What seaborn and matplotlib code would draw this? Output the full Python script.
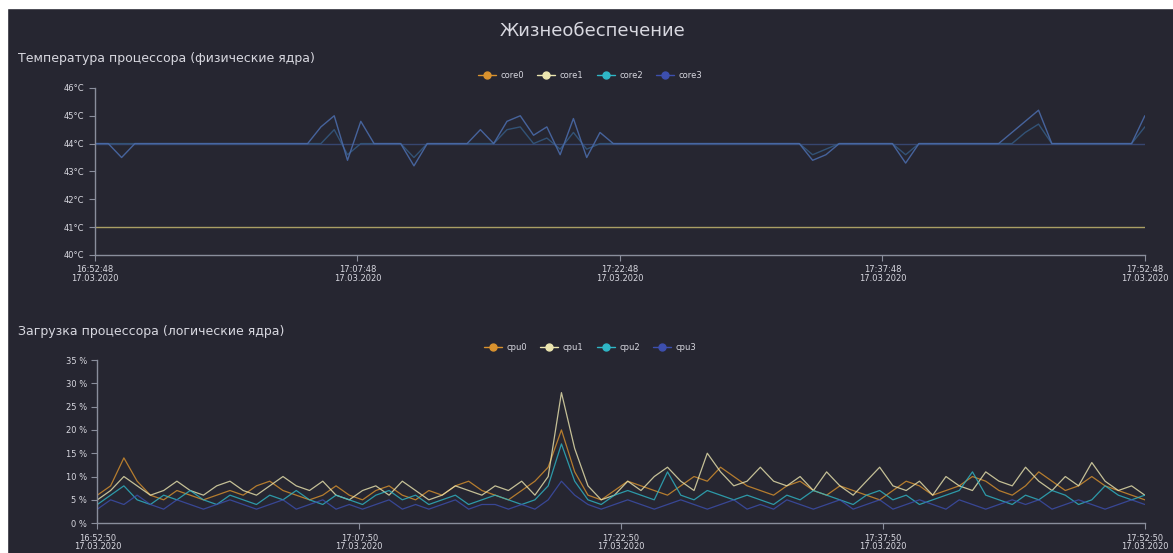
import numpy as np
import pandas as pd
import matplotlib
matplotlib.use("Agg")
import matplotlib.pyplot as plt
import seaborn as sns
from matplotlib.lines import Line2D
from matplotlib.patches import Rectangle

# --- данные ---
TITLE = "Жизнеобеспечение"
TEMP_TITLE = "Температура процессора (физические ядра)"
LOAD_TITLE = "Загрузка процессора (логические ядра)"

temp_names = ["core0", "core1", "core2", "core3"]
load_names = ["cpu0", "cpu1", "cpu2", "cpu3"]

core0 = [44] * 80
core1 = [41] * 80
core2 = [44, 44, 44, 44, 44, 44, 44, 44, 44, 44,
         44, 44, 44, 44, 44, 44, 44, 44, 44.5, 43.6,
         44, 44, 44, 44, 43.5, 44, 44, 44, 44, 44,
         44, 44.5, 44.6, 44, 44.2, 43.8, 44.4, 43.8, 44, 44,
         44, 44, 44, 44, 44, 44, 44, 44, 44, 44,
         44, 44, 44, 44, 43.6, 43.8, 44, 44, 44, 44,
         44, 43.6, 44, 44, 44, 44, 44, 44, 44, 44,
         44.4, 44.7, 44, 44, 44, 44, 44, 44, 44, 44.6]
core3 = [44, 44, 43.5, 44, 44, 44, 44, 44, 44, 44,
         44, 44, 44, 44, 44, 44, 44, 44.6, 45, 43.4,
         44.8, 44, 44, 44, 43.2, 44, 44, 44, 44, 44.5,
         44, 44.8, 45, 44.3, 44.6, 43.6, 44.9, 43.5, 44.4, 44,
         44, 44, 44, 44, 44, 44, 44, 44, 44, 44,
         44, 44, 44, 44, 43.4, 43.6, 44, 44, 44, 44,
         44, 43.3, 44, 44, 44, 44, 44, 44, 44, 44.4,
         44.8, 45.2, 44, 44, 44, 44, 44, 44, 44, 45]

cpu0 = [6, 8, 14, 9, 6, 5, 7, 6, 5, 6,
        7, 6, 8, 9, 7, 6, 5, 6, 8, 6,
        5, 7, 8, 6, 5, 7, 6, 8, 9, 7,
        6, 5, 7, 9, 12, 20, 11, 6, 5, 7,
        9, 8, 7, 6, 8, 10, 9, 12, 10, 8,
        7, 6, 8, 9, 7, 6, 8, 7, 6, 5,
        7, 9, 8, 6, 7, 8, 10, 9, 7, 6,
        8, 11, 9, 7, 8, 10, 8, 7, 6, 5]
cpu1 = [5, 7, 10, 8, 6, 7, 9, 7, 6, 8,
        9, 7, 6, 8, 10, 8, 7, 9, 6, 5,
        7, 8, 6, 9, 7, 5, 6, 8, 7, 6,
        8, 7, 9, 6, 10, 28, 16, 8, 5, 6,
        9, 7, 10, 12, 9, 7, 15, 11, 8, 9,
        12, 9, 8, 10, 7, 11, 8, 6, 9, 12,
        8, 7, 9, 6, 10, 8, 7, 11, 9, 8,
        12, 9, 7, 10, 8, 13, 9, 7, 8, 6]
cpu2 = [4, 6, 8, 5, 4, 6, 5, 7, 5, 4,
        6, 5, 4, 6, 5, 7, 5, 4, 6, 5,
        4, 6, 7, 5, 6, 4, 5, 6, 4, 5,
        6, 5, 4, 5, 8, 17, 9, 5, 4, 6,
        7, 6, 5, 11, 6, 5, 7, 6, 5, 6,
        5, 4, 6, 5, 7, 6, 5, 4, 6, 7,
        5, 6, 4, 5, 6, 7, 11, 6, 5, 4,
        6, 5, 7, 6, 4, 5, 8, 6, 5, 6]
cpu3 = [3, 5, 4, 6, 4, 3, 5, 4, 3, 4,
        5, 4, 3, 4, 5, 3, 4, 5, 3, 4,
        3, 4, 5, 3, 4, 3, 4, 5, 3, 4,
        4, 3, 4, 3, 5, 9, 6, 4, 3, 4,
        5, 4, 3, 4, 5, 4, 3, 4, 5, 3,
        4, 3, 5, 4, 3, 4, 5, 3, 4, 5,
        3, 4, 5, 4, 3, 5, 4, 3, 4, 5,
        4, 5, 3, 4, 5, 4, 3, 4, 5, 4]

temp_ticks = [40, 41, 42, 43, 44, 45, 46]
temp_ticklabels = ["40°C", "41°C", "42°C", "43°C", "44°C", "45°C", "46°C"]
load_ticks = [0, 5, 10, 15, 20, 25, 30, 35]
load_ticklabels = ["0 %", "5 %", "10 %", "15 %", "20 %", "25 %", "30 %", "35 %"]
temp_xlabels = ["16:52:48\n17.03.2020", "17:07:48\n17.03.2020", "17:22:48\n17.03.2020",
                "17:37:48\n17.03.2020", "17:52:48\n17.03.2020"]
load_xlabels = ["16:52:50\n17.03.2020", "17:07:50\n17.03.2020", "17:22:50\n17.03.2020",
                "17:37:50\n17.03.2020", "17:52:50\n17.03.2020"]

# --- стиль ---
BG = "#262631"
FG = "#d8d8e0"
AXIS = "#8a8e9c"
colors = ["#d9922e", "#ece6b0", "#2fb6c6", "#3d4fae"]
# на графике температур линии заметно тусклее
temp_line_colors = ["#3a4a78", "#b9ad6a", "#34587e", "#4a6aa8"]

sns.set_theme(style="dark", rc={"axes.facecolor": BG, "figure.facecolor": BG})
plt.rcParams['font.family'] = ['DejaVu Sans']

fig = plt.figure(figsize=(11.73, 5.53), dpi=100)
ax1 = fig.add_axes([0.081, 0.539, 0.895, 0.302])
ax2 = fig.add_axes([0.083, 0.054, 0.893, 0.295])


def make_df(series, names):
    rows = []
    for name, vals in zip(names, series):
        for i, v in enumerate(vals):
            rows.append({"x": i, "y": v, "name": name})
    return pd.DataFrame(rows)


def style_axis(ax, yticks, ylabels, xlabels, n):
    ax.set_facecolor(BG)
    for s in ["top", "right"]:
        ax.spines[s].set_visible(False)
    for s in ["left", "bottom"]:
        ax.spines[s].set_visible(True)
        ax.spines[s].set_color(AXIS)
        ax.spines[s].set_linewidth(1.0)
    ax.grid(False)
    ax.set_yticks(yticks)
    ax.set_yticklabels(ylabels)
    ax.set_xticks(np.linspace(0, n - 1, len(xlabels)))
    ax.set_xticklabels(xlabels, linespacing=0.95)
    ax.tick_params(axis="both", colors=AXIS, labelcolor=FG, labelsize=6,
                   length=4, width=0.8, left=True, bottom=True)
    ax.set_xlim(0, n - 1)
    ax.set_xlabel("")
    ax.set_ylabel("")


def add_legend(names, y):
    handles = [Line2D([0], [0], color=c, lw=1.0, marker="o", markersize=5,
                      markerfacecolor=c, markeredgecolor=c) for c in colors]
    leg = fig.legend(handles, names, loc="center", bbox_to_anchor=(0.503, y),
                     ncol=4, frameon=False, fontsize=6, handlelength=2.2,
                     columnspacing=1.6, handletextpad=0.5)
    for t in leg.get_texts():
        t.set_color(FG)


df_t = make_df([core0, core1, core2, core3], temp_names)
sns.lineplot(data=df_t, x="x", y="y", hue="name", palette=temp_line_colors, ax=ax1,
             legend=False, linewidth=1.0, alpha=0.9)
ax1.set_ylim(40, 46)
style_axis(ax1, temp_ticks, temp_ticklabels, temp_xlabels, len(core3))

df_l = make_df([cpu0, cpu1, cpu2, cpu3], load_names)
sns.lineplot(data=df_l, x="x", y="y", hue="name", palette=colors, ax=ax2,
             legend=False, linewidth=0.9, alpha=0.8)
ax2.set_ylim(0, 35)
style_axis(ax2, load_ticks, load_ticklabels, load_xlabels, len(cpu1))

fig.text(0.505, 0.944, TITLE, ha="center", va="center", fontsize=13, color=FG)
fig.text(0.015, 0.895, TEMP_TITLE, ha="left", va="center", fontsize=9, color=FG)
fig.text(0.015, 0.400, LOAD_TITLE, ha="left", va="center", fontsize=9, color=FG)
add_legend(temp_names, 0.864)
add_legend(load_names, 0.371)

# белая рамка сверху и слева (как на скриншоте)
fig.add_artist(Rectangle((0, 1 - 8 / 553), 1, 8 / 553, transform=fig.transFigure,
                         color="white", zorder=10))
fig.add_artist(Rectangle((0, 0), 7 / 1173, 1, transform=fig.transFigure,
                         color="white", zorder=10))

fig.savefig("out.png", dpi=100, facecolor=BG)
